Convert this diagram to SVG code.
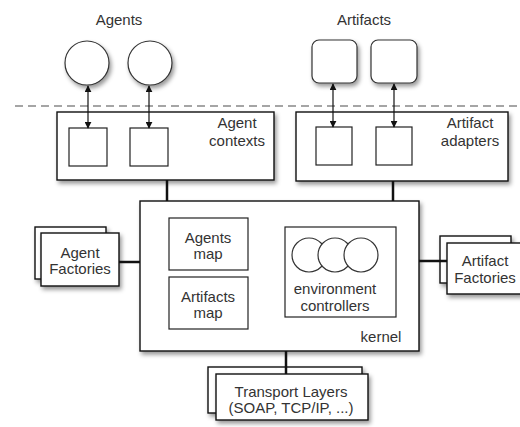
<svg xmlns="http://www.w3.org/2000/svg" width="520" height="427" viewBox="0 0 520 427">
<defs>
<filter id="sh" x="-20%" y="-20%" width="150%" height="150%">
<feDropShadow dx="2" dy="3" stdDeviation="2" flood-color="#000" flood-opacity="0.4"/>
</filter>
<marker id="ah" viewBox="0 0 10 10" refX="9" refY="5" markerWidth="7" markerHeight="7" orient="auto-start-reverse" markerUnits="userSpaceOnUse">
<path d="M0,0 L10,5 L0,10 z" fill="#111"/>
</marker>
</defs>
<style>
.box{fill:#fff;stroke:#111;stroke-width:1.4}
.inner{fill:#fff;stroke:#222;stroke-width:1.2}
.circ{fill:#fff;stroke:#333;stroke-width:1.2}
.t{font-family:"Liberation Sans",Arial,sans-serif;font-size:15px;fill:#333;text-anchor:middle}
.link{stroke:#111;stroke-width:2.5;fill:none}
.arr{stroke:#111;stroke-width:1.2;fill:none;marker-start:url(#ah);marker-end:url(#ah)}
</style>
<rect width="520" height="427" fill="#fff"/>
<line x1="15" y1="106" x2="520" y2="106" stroke="#888" stroke-width="1.5" stroke-dasharray="8 5"/>

<g id="agents">
<text class="t" x="119" y="25">Agents</text>
<circle class="circ" cx="87" cy="63" r="22" filter="url(#sh)"/>
<circle class="circ" cx="150" cy="63" r="22" filter="url(#sh)"/>
</g>

<g id="artifacts">
<text class="t" x="364" y="25">Artifacts</text>
<rect class="circ" x="312" y="40" width="45" height="43" rx="7" filter="url(#sh)"/>
<rect class="circ" x="371" y="40" width="46" height="43" rx="7" filter="url(#sh)"/>
</g>

<g id="agent-contexts">
<rect class="box" x="57" y="112" width="217" height="68" filter="url(#sh)"/>
<rect class="inner" x="69" y="128" width="38" height="38"/>
<rect class="inner" x="130" y="128" width="38" height="38"/>
<text class="t" x="237" y="128">Agent</text>
<text class="t" x="237" y="146">contexts</text>
</g>

<g id="artifact-adapters">
<rect class="box" x="296" y="112" width="212" height="69" filter="url(#sh)"/>
<rect class="inner" x="316" y="127" width="36" height="38"/>
<rect class="inner" x="376" y="127" width="36" height="38"/>
<text class="t" x="470" y="128">Artifact</text>
<text class="t" x="470" y="146">adapters</text>
</g>

<g id="kernel">
<rect class="box" x="140" y="201" width="279" height="150" filter="url(#sh)"/>
<text class="t" x="381" y="342">kernel</text>
</g>

<g id="agents-map">
<rect class="inner" x="169" y="218" width="79" height="52"/>
<text class="t" x="208" y="243">Agents</text>
<text class="t" x="208" y="259">map</text>
</g>

<g id="artifacts-map">
<rect class="inner" x="169" y="277" width="79" height="52"/>
<text class="t" x="208" y="302">Artifacts</text>
<text class="t" x="208" y="318">map</text>
</g>

<g id="environment-controllers">
<rect class="inner" x="285" y="227" width="111" height="90"/>
<circle class="circ" cx="309" cy="255" r="17"/>
<circle class="circ" cx="335" cy="255" r="17"/>
<circle class="circ" cx="361" cy="255" r="17"/>
<text class="t" x="335" y="294">environment</text>
<text class="t" x="335" y="311">controllers</text>
</g>

<g id="agent-factories">
<rect class="box" x="35" y="227" width="71" height="52" filter="url(#sh)"/>
<rect class="box" x="41" y="233" width="78" height="53" filter="url(#sh)"/>
<text class="t" x="80" y="258">Agent</text>
<text class="t" x="80" y="274">Factories</text>
</g>

<g id="artifact-factories">
<rect class="box" x="440" y="236" width="71" height="47" filter="url(#sh)"/>
<rect class="box" x="447" y="243" width="76" height="51" filter="url(#sh)"/>
<text class="t" x="485" y="266">Artifact</text>
<text class="t" x="485" y="283">Factories</text>
</g>

<g id="transport-layers">
<rect class="box" x="208" y="367" width="154" height="46" filter="url(#sh)"/>
<rect class="box" x="216" y="374" width="152" height="46" filter="url(#sh)"/>
<text class="t" x="291" y="397">Transport Layers</text>
<text class="t" x="291" y="413">(SOAP, TCP/IP, ...)</text>
</g>

<g id="connectors">
<line class="arr" x1="88" y1="86" x2="88" y2="128"/>
<line class="arr" x1="149" y1="86" x2="149" y2="128"/>
<line class="arr" x1="333" y1="84" x2="333" y2="127"/>
<line class="arr" x1="394" y1="84" x2="394" y2="127"/>
<line class="link" x1="167" y1="180" x2="167" y2="201"/>
<line class="link" x1="393" y1="181" x2="393" y2="201"/>
<line class="link" x1="119" y1="262" x2="140" y2="262"/>
<line class="link" x1="419" y1="261" x2="447" y2="261"/>
<line class="link" x1="286" y1="351" x2="286" y2="374"/>
</g>
</svg>
